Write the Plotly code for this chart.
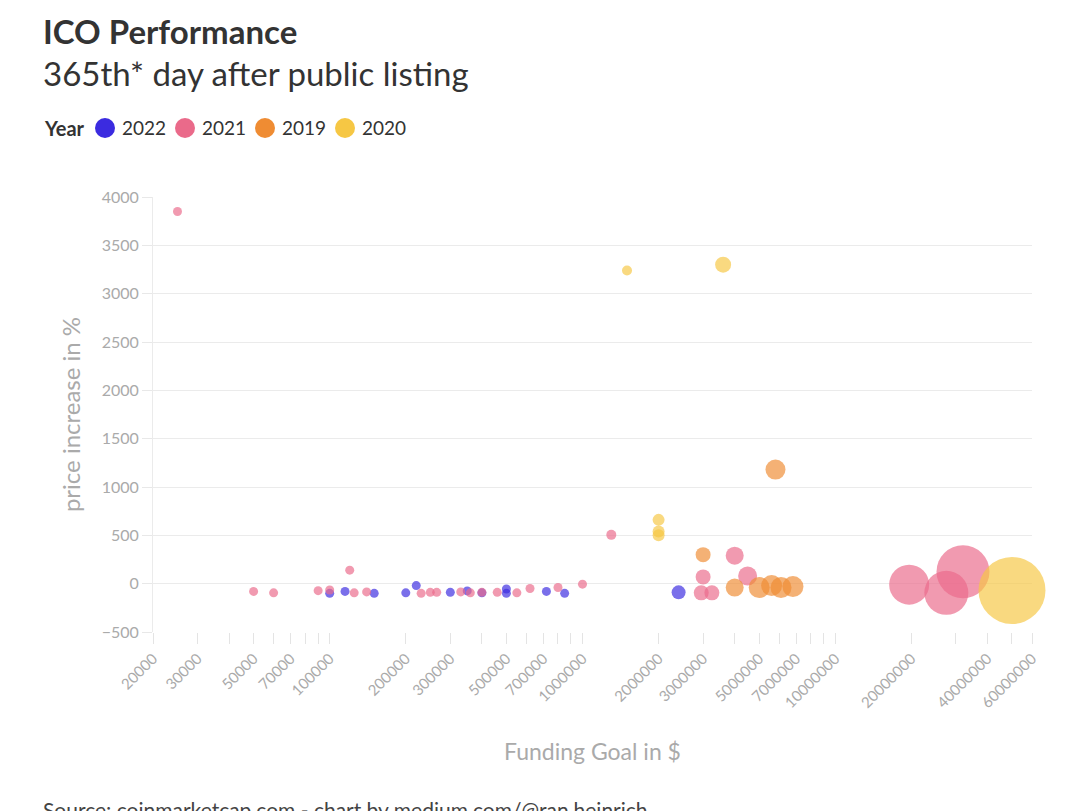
import math
import plotly.graph_objects as go

# ---------------- data ----------------
years = ["2022", "2021", "2019", "2020"]
colors = {"2022": "#3b2be0", "2021": "#ea6a8a", "2019": "#ef8c33", "2020": "#f6c744"}

goal_2022 = [100000, 115000, 150000, 200000, 220000, 300000, 350000, 400000,
             500000, 500000, 720000, 850000, 2400000]
perf_2022 = [-100, -80, -100, -95, -20, -90, -75, -95, -55, -100, -80, -100, -90]
raised_2022 = [0.81, 0.81, 0.81, 0.81, 0.81, 0.81, 0.81, 0.81,
               0.81, 0.81, 0.81, 0.81, 1.96]

goal_2021 = [25000, 50000, 60000, 90000, 100000, 120000, 125000, 140000,
             230000, 250000, 265000, 330000, 360000, 400000, 460000, 550000,
             620000, 800000, 1000000, 1300000, 3000000, 2950000, 3250000,
             4000000, 4500000, 19600000, 27500000, 32000000]
perf_2021 = [3850, -80, -95, -72, -65, 140, -95, -85,
             -100, -90, -90, -85, -95, -90, -90, -95,
             -50, -40, -5, 505, 70, -95, -95,
             290, 80, -10, -95, 124]
raised_2021 = [0.81, 0.81, 0.81, 0.81, 0.81, 0.81, 0.81, 0.81,
               0.81, 0.81, 0.81, 0.81, 0.81, 0.81, 0.81, 0.81,
               0.81, 0.81, 0.81, 1.0, 2.25, 2.25, 2.25,
               3.24, 3.61, 16.0, 19.4, 28.1]

goal_2019 = [3000000, 4000000, 5000000, 5600000, 5800000, 6100000, 6800000]
perf_2019 = [300, -40, -40, -20, 1180, -40, -30]
raised_2019 = [2.25, 3.24, 4.41, 4.41, 4.0, 4.41, 4.41]

goal_2020 = [1500000, 2000000, 2000000, 2000000, 3600000, 50000000]
perf_2020 = [3240, 660, 540, 500, 3300, -70]
raised_2020 = [1.0, 1.44, 1.44, 1.44, 2.56, 44.9]

series = {
    "2022": (goal_2022, perf_2022, raised_2022),
    "2021": (goal_2021, perf_2021, raised_2021),
    "2019": (goal_2019, perf_2019, raised_2019),
    "2020": (goal_2020, perf_2020, raised_2020),
}

x_labeled = [20000, 30000, 50000, 70000, 100000, 200000, 300000, 500000, 700000,
             1000000, 2000000, 3000000, 5000000, 7000000, 10000000, 20000000,
             40000000, 60000000]
y_ticks = [-500, 0, 500, 1000, 1500, 2000, 2500, 3000, 3500, 4000]

# ---------------- layout geometry ----------------
W, H = 1080, 811
L, R, T, B = 153, 1032, 197, 632
FONT = "Lato, 'Source Sans Pro', 'Noto Sans', sans-serif"


def px(xp):
    return (xp - L) / (R - L)


def py(yp):
    return (B - yp) / (B - T)


fig = go.Figure()
for yr in years:
    gx, gy, gs = series[yr]
    fig.add_trace(go.Scatter(
        x=gx, y=gy, mode="markers", name=yr, cliponaxis=False,
        marker=dict(size=gs, sizemode="area", sizeref=0.02, sizemin=2,
                    color=colors[yr], opacity=0.68,
                    line=dict(width=0)),
        showlegend=False,
    ))

# tick marks at every integer multiple, labels only on selected values
tickvals = []
for e in range(4, 8):
    for m in range(1, 10):
        v = m * 10 ** e
        if 20000 <= v <= 60000000:
            tickvals.append(v)
ticktext = [str(v) if v in x_labeled else "" for v in tickvals]

fig.update_xaxes(
    type="log", range=[math.log10(20000), math.log10(60000000)],
    tickmode="array", tickvals=tickvals, ticktext=ticktext,
    tickangle=-45, ticks="outside", ticklen=11, tickcolor="#e4e4e4",
    tickfont=dict(family=FONT, size=15, color="#aaaaaa"),
    showgrid=False, zeroline=False, showline=False,
    title=dict(text="Funding Goal in $", standoff=33,
               font=dict(family=FONT, size=23, color="#aaaaaa")),
)
fig.update_yaxes(
    range=[-500, 4000], tickmode="array", tickvals=y_ticks,
    ticks="outside", ticklen=10, tickcolor="#e8e8e8",
    tickfont=dict(family=FONT, size=16, color="#aaaaaa"),
    showgrid=True, gridcolor="#ebebeb", gridwidth=1,
    zeroline=False, showline=True, linecolor="#ebebeb", linewidth=1,
    title=dict(text="price increase in %", standoff=14,
               font=dict(family=FONT, size=24, color="#aaaaaa")),
)

annotations = [
    dict(text="<b>ICO Performance</b>", x=px(41), y=py(31), xref="paper", yref="paper",
         xanchor="left", yanchor="middle", showarrow=False,
         font=dict(family=FONT, size=33, color="#333333")),
    dict(text="365th* day after public listing", x=px(41), y=py(73), xref="paper", yref="paper",
         xanchor="left", yanchor="middle", showarrow=False,
         font=dict(family=FONT, size=33, color="#333333")),
    dict(text="<b>Year</b>", x=px(42), y=py(128), xref="paper", yref="paper",
         xanchor="left", yanchor="middle", showarrow=False,
         font=dict(family=FONT, size=20, color="#333333")),
    dict(text="Source: coinmarketcap.com - chart by medium.com/@ran.heinrich",
         x=px(41), y=py(795), xref="paper", yref="paper",
         xanchor="left", yanchor="top", showarrow=False,
         font=dict(family=FONT, size=21, color="#444444")),
]
shapes = []
legend_x = {"2022": 105, "2021": 185, "2019": 265, "2020": 345}
for yr in years:
    cx, cy, r = legend_x[yr], 128, 10
    shapes.append(dict(type="circle", xref="paper", yref="paper",
                       x0=px(cx - r), x1=px(cx + r), y0=py(cy + r), y1=py(cy - r),
                       fillcolor=colors[yr], line=dict(width=0)))
    annotations.append(dict(text=yr, x=px(cx + 15), y=py(cy), xref="paper", yref="paper",
                            xanchor="left", yanchor="middle", showarrow=False,
                            font=dict(family=FONT, size=19, color="#333333")))

fig.update_layout(
    width=W, height=H,
    margin=dict(l=L, r=W - R, t=T, b=H - B, autoexpand=False),
    paper_bgcolor="white", plot_bgcolor="white",
    annotations=annotations, shapes=shapes,
    showlegend=False,
)

fig.write_html(
    "out.html",
    config={"displayModeBar": False},
    post_script="document.body.style.margin='0';document.body.style.overflow='hidden';",
)
